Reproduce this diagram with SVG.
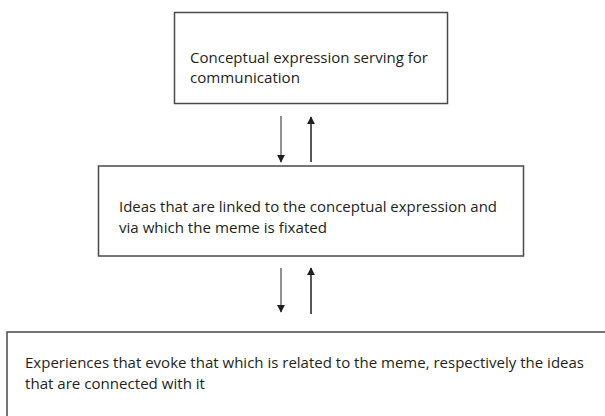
<svg xmlns="http://www.w3.org/2000/svg" width="605" height="416" viewBox="0 0 605 416">
<style>
.box{fill:#fff;stroke:#4a4a4a;stroke-width:1.5}
.t{font-family:"Open Sans","Liberation Sans",sans-serif;font-size:14.5px;fill:#231f20}
.dn{stroke:#6d6d6d;stroke-width:1.5;fill:none}
.up{stroke:#231f20;stroke-width:1.5;fill:none}
</style>
<defs>
<marker id="ahg" viewBox="0 0 10 10" refX="9" refY="5" markerWidth="5.5" markerHeight="5.5" orient="auto" markerUnits="strokeWidth"><path d="M0,0 L10,5 L0,10 Z" fill="#231f20"/></marker>
<marker id="ahb" viewBox="0 0 10 10" refX="9" refY="5" markerWidth="5.5" markerHeight="5.5" orient="auto" markerUnits="strokeWidth"><path d="M0,0 L10,5 L0,10 Z" fill="#231f20"/></marker>
</defs>
<rect width="605" height="416" fill="#fff"/>
<g id="n1">
<rect class="box" x="174.5" y="12.5" width="273" height="91"/>
<text class="t" x="190" y="63" textLength="238" lengthAdjust="spacingAndGlyphs">Conceptual expression serving for</text>
<text class="t" x="190" y="83" textLength="110" lengthAdjust="spacingAndGlyphs">communication</text>
</g>
<g id="n2">
<rect class="box" x="98.5" y="166" width="425" height="90"/>
<text class="t" x="119" y="212" textLength="378" lengthAdjust="spacingAndGlyphs">Ideas that are linked to the conceptual expression and</text>
<text class="t" x="119" y="233" textLength="208" lengthAdjust="spacingAndGlyphs">via which the meme is fixated</text>
</g>
<g id="n3">
<rect class="box" x="7" y="332" width="610" height="100"/>
<text class="t" x="25" y="368" textLength="559" lengthAdjust="spacingAndGlyphs">Experiences that evoke that which is related to the meme, respectively the ideas</text>
<text class="t" x="25" y="389" textLength="180" lengthAdjust="spacingAndGlyphs">that are connected with it</text>
</g>
<g id="connectors">
<line class="dn" x1="281" y1="116" x2="281" y2="162" marker-end="url(#ahg)"/>
<line class="up" x1="311" y1="162" x2="311" y2="117" marker-end="url(#ahb)"/>
<line class="dn" x1="281" y1="268" x2="281" y2="312" marker-end="url(#ahg)"/>
<line class="up" x1="311" y1="314" x2="311" y2="268" marker-end="url(#ahb)"/>
</g>
</svg>
